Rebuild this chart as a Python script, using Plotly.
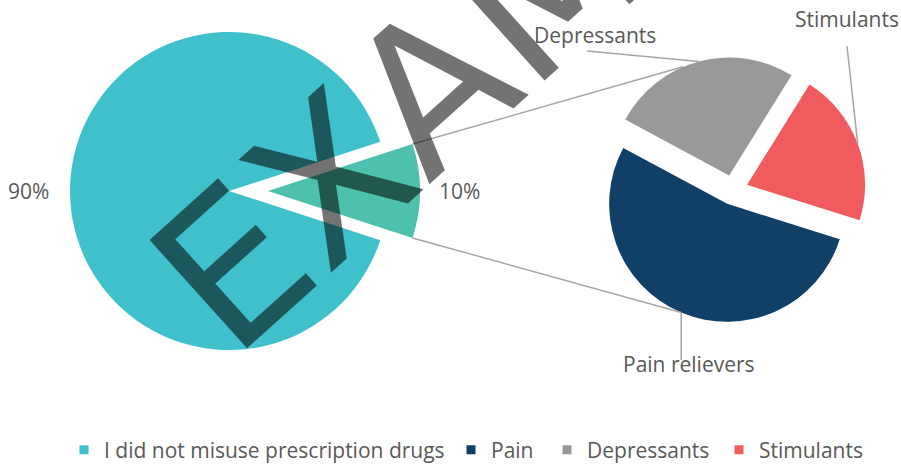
import math
import plotly.graph_objects as go

W, H = 901, 465

# ---------------- data ----------------
main_labels = ["I did not misuse prescription drugs", "Misused prescription drugs"]
main_values = [90, 10]
sub_labels = ["Pain", "Depressants", "Stimulants"]
sub_callouts = ["Pain relievers", "Depressants", "Stimulants"]
sub_values = [53, 26, 21]

main_colors = ["#3FC1CC", "#4DC1AD"]
sub_colors = ["#103F68", "#999999", "#F05C5E"]
legend_labels = [main_labels[0]] + sub_labels
legend_colors = [main_colors[0]] + sub_colors

TXT = "#595959"
FONT = "Open Sans"
LINE = "#A6A6A6"
FS = 21

# ---------------- geometry (layout) ----------------
# primary pie
c1x, c1y, r1 = 229, 191, 159
r1b = 152                 # radius of the exploded "other" slice
pull1_px = 39
pull1 = pull1_px / r1b
rot1 = 90 + 180 * main_values[1] / sum(main_values)   # other slice centred at 3 o'clock

# secondary pie
c2x, c2y, r2 = 733, 190, 118
pull2_px = 15
pull2 = pull2_px / r2
rot2 = 107.5


def px2paper_x(x):
    return x / W


def px2paper_y(y):
    return 1 - y / H


def domain(cx, cy, half):
    return dict(x=[px2paper_x(cx - half), px2paper_x(cx + half)],
                y=[px2paper_y(cy + half), px2paper_y(cy - half)])


def slice_angles(values, rot):
    tot = sum(values)
    out = []
    a = rot
    for v in values:
        span = 360 * v / tot
        out.append((a, a + span, a + span / 2))
        a += span
    return out


def pt(cx, cy, r, a):
    t = math.radians(a)
    return cx + r * math.sin(t), cy - r * math.cos(t)


def text_ann(x, y, text, size=FS, **kw):
    d = dict(x=px2paper_x(x), y=px2paper_y(y), xref="paper", yref="paper",
             xanchor="center", yanchor="middle", text=text, showarrow=False,
             font=dict(family=FONT, size=size, color=TXT))
    d.update(kw)
    return d


fig = go.Figure()

# primary pie, main slice
fig.add_trace(go.Pie(
    values=main_values, labels=main_labels, sort=False, direction="clockwise",
    rotation=rot1, marker=dict(colors=[main_colors[0], "rgba(0,0,0,0)"], line=dict(width=0)),
    textinfo="none", hoverinfo="label+percent", showlegend=False,
    domain=domain(c1x, c1y, r1),
))
# primary pie, exploded slice
fig.add_trace(go.Pie(
    values=main_values, labels=main_labels, sort=False, direction="clockwise",
    rotation=rot1, pull=[0, pull1],
    marker=dict(colors=["rgba(0,0,0,0)", main_colors[1]], line=dict(width=0)),
    textinfo="none", hoverinfo="label+percent", showlegend=False,
    domain=domain(c1x, c1y, r1b + pull1_px),
))
# secondary pie
fig.add_trace(go.Pie(
    values=sub_values, labels=sub_labels, sort=False, direction="clockwise",
    rotation=rot2, pull=[pull2] * len(sub_values),
    marker=dict(colors=sub_colors, line=dict(width=0)),
    textinfo="none", hoverinfo="label+percent", showlegend=False,
    domain=domain(c2x, c2y, r2 + pull2_px),
))

# legend entries (one legend each so they can be spaced like the original)
legend_text_x = [100, 487, 583, 755]
for i, (lab, col) in enumerate(zip(legend_labels, legend_colors)):
    key = "legend" if i == 0 else f"legend{i + 1}"
    fig.add_trace(go.Scatter(
        x=[None], y=[None], mode="markers", name=lab,
        marker=dict(symbol="square", size=9, color=col),
        legend=key, showlegend=True, hoverinfo="skip",
    ))
    fig.update_layout(**{key: dict(
        x=px2paper_x(legend_text_x[i] - 36), xanchor="left",
        y=px2paper_y(450), yanchor="middle", orientation="h",
        font=dict(family=FONT, size=FS, color=TXT),
        bgcolor="rgba(0,0,0,0)", borderwidth=0,
    )})

shapes = []
annotations = []

# percentage labels for primary pie
tot1 = sum(main_values)
annotations.append(text_ann(29, 191, f"{round(100 * main_values[0] / tot1)}%"))
annotations.append(text_ann(459, 191, f"{round(100 * main_values[1] / tot1)}%"))

# connector lines primary -> secondary
ang1 = slice_angles(main_values, rot1)
o_start, o_end, o_mid = ang1[1]
apx, apy = pt(c1x, c1y, pull1_px, o_mid)
up_start = pt(apx, apy, r1b, o_start)
lo_start = pt(apx, apy, r1b, o_end)
if up_start[1] > lo_start[1]:
    up_start, lo_start = lo_start, up_start

ang2 = slice_angles(sub_values, rot2)
apex2 = [pt(c2x, c2y, pull2_px, a[2]) for a in ang2]
pain_mid = ang2[0][2]
lo_end = pt(apex2[0][0], apex2[0][1], r2, pain_mid)
up_end = pt(apex2[1][0], apex2[1][1], r2, 540 - pain_mid)

for (x0, y0), (x1, y1) in [(up_start, up_end), (lo_start, lo_end)]:
    shapes.append(dict(type="line", xref="paper", yref="paper",
                       x0=px2paper_x(x0), y0=px2paper_y(y0), x1=px2paper_x(x1), y1=px2paper_y(y1),
                       line=dict(color=LINE, width=1.5)))

# callout labels for secondary pie
label_pos = [(689, 364), (595, 35), (847, 19)]
leader_end = [(None, 360), (587, 51), (847, 46)]
for i, a in enumerate(ang2):
    sx, sy = pt(apex2[i][0], apex2[i][1], r2, a[2])
    ex, ey = leader_end[i]
    if ex is None:
        ex = sx
    shapes.append(dict(type="line", xref="paper", yref="paper",
                       x0=px2paper_x(sx), y0=px2paper_y(sy), x1=px2paper_x(ex), y1=px2paper_y(ey),
                       line=dict(color=LINE, width=1.5)))
    lx, ly = label_pos[i]
    annotations.append(text_ann(lx, ly, sub_callouts[i]))

# watermark
annotations.append(dict(x=px2paper_x(532), y=px2paper_y(-1), xref="paper", yref="paper",
                        xanchor="center", yanchor="middle",
                        text="EXAMPLE", showarrow=False, textangle=-42,
                        font=dict(family="DejaVu Sans", size=200, color="rgba(0,0,0,0.55)")))

fig.update_layout(
    width=W, height=H,
    margin=dict(l=0, r=0, t=0, b=0, autoexpand=False),
    paper_bgcolor="white", plot_bgcolor="white",
    xaxis=dict(visible=False), yaxis=dict(visible=False),
    shapes=shapes, annotations=annotations,
    font=dict(family=FONT, color=TXT),
)

fig.write_html("out.html", config={"displayModeBar": False},
               post_script="document.body.style.margin='0px';document.body.style.overflow='hidden';")
